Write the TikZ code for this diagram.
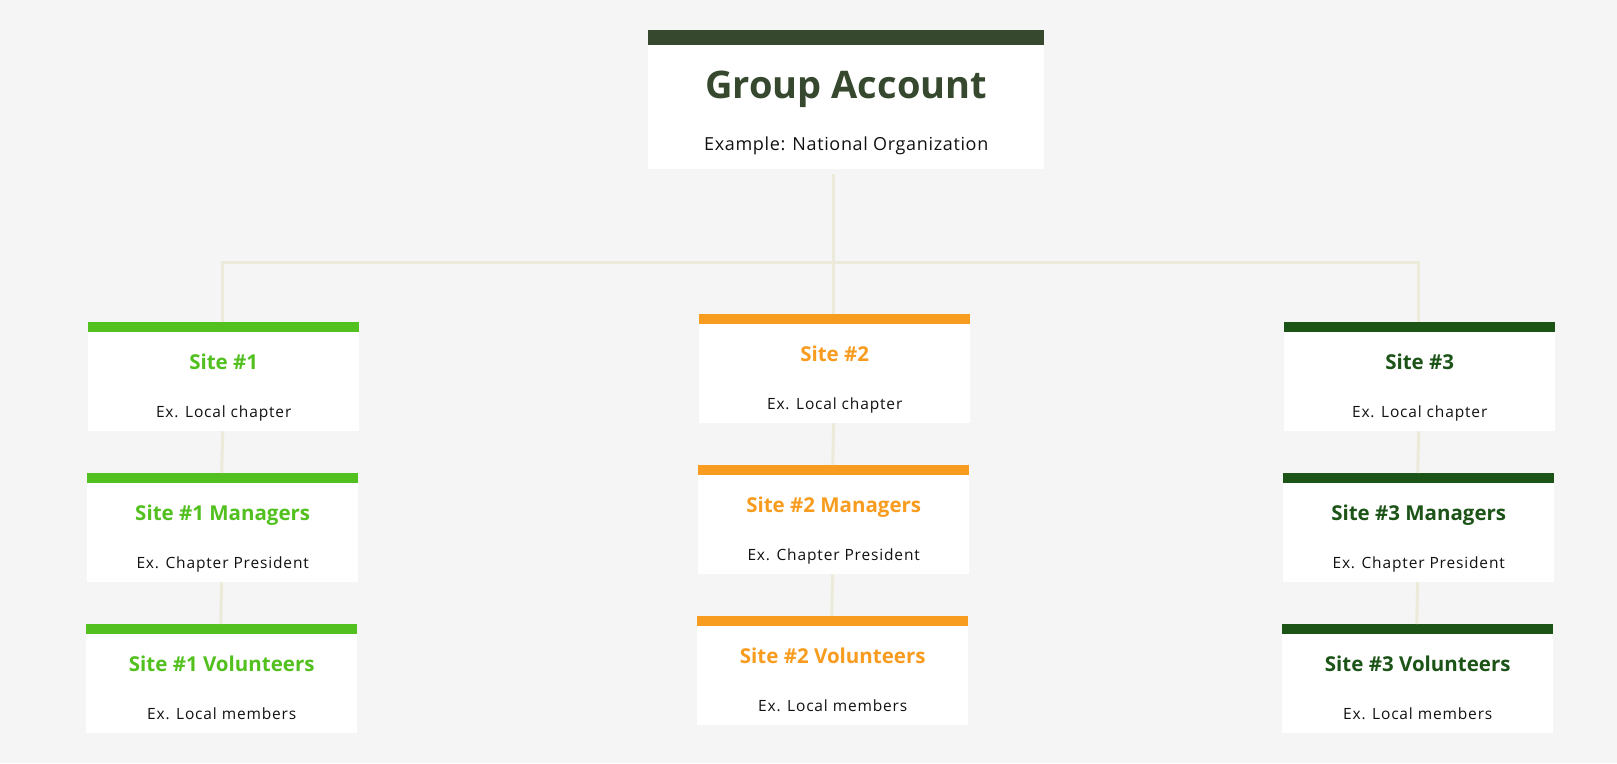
\documentclass[tikz,border=0pt]{standalone}
\usepackage{fontspec}
\setmainfont{Open Sans}
\definecolor{bg}{HTML}{F5F5F5}
\definecolor{linec}{HTML}{ECEBD9}
\definecolor{topc}{HTML}{36492F}
\definecolor{greenc}{HTML}{52C01F}
\definecolor{orangec}{HTML}{F89C1F}
\definecolor{darkc}{HTML}{1C5418}
\definecolor{textc}{HTML}{111111}
\tikzset{
  x=1pt, y=-1pt,
  cardbox/.style={draw=none, fill=white, rectangle, inner sep=0pt, anchor=north west,
    minimum width=271pt, minimum height=109pt},
  topbox/.style={draw=none, fill=white, rectangle, inner sep=0pt, anchor=north west,
    minimum width=396pt, minimum height=139pt},
  cardtitle/.style={anchor=base, inner sep=0pt, font=\fontsize{20.5}{24}\selectfont\bfseries},
  cardsub/.style={anchor=base, inner sep=0pt, font=\fontsize{15.5}{19}\selectfont\addfontfeatures{LetterSpace=5.5}, text=textc},
  conn/.style={draw=linec, line width=3pt},
}
\newcommand\orgcard[6]{%
  \node[cardbox] (#1) at (#2,#3) {};
  \fill[#4] (#1.north west) rectangle ++(271,10);
  \node[cardtitle, text=#4] (#1-t) at ([yshift=-47.5pt]#1.north) {#5};
  \node[cardsub] (#1-s) at ([yshift=-95pt]#1.north) {#6};
}
\begin{document}
\begin{tikzpicture}
\fill[bg] (0,0) rectangle (1617,763);
\useasboundingbox (0,0) rectangle (1617,763);
\coordinate (hub) at (833.5,262);
% top box
\node[topbox] (top) at (648,30) {};
\fill[topc] (top.north west) rectangle ++(396,15);
\node[anchor=base, inner sep=0pt, text=topc, font=\fontsize{38}{44}\selectfont\bfseries] (top-t) at ([yshift=-68pt]top.north) {Group Account};
\node[anchor=base, inner sep=0pt, text=textc, font=\fontsize{18}{22}\selectfont\addfontfeatures{LetterSpace=3.6}] (top-s) at ([yshift=-120pt]top.north) {Example: National Organization};
% cards
\orgcard{s1}{88}{322}{greenc}{Site \#1}{Ex. Local chapter}
\orgcard{m1}{87}{473}{greenc}{Site \#1 Managers}{Ex. Chapter President}
\orgcard{v1}{86}{624}{greenc}{Site \#1 Volunteers}{Ex. Local members}
\orgcard{s2}{699}{314}{orangec}{Site \#2}{Ex. Local chapter}
\orgcard{m2}{698}{465}{orangec}{Site \#2 Managers}{Ex. Chapter President}
\orgcard{v2}{697}{616}{orangec}{Site \#2 Volunteers}{Ex. Local members}
\orgcard{s3}{1284}{322}{darkc}{Site \#3}{Ex. Local chapter}
\orgcard{m3}{1283}{473}{darkc}{Site \#3 Managers}{Ex. Chapter President}
\orgcard{v3}{1282}{624}{darkc}{Site \#3 Volunteers}{Ex. Local members}
% connectors
\draw[conn] ([yshift=-5pt]top.south -| hub) -- (hub);
\draw[conn] ([xshift=-1pt]s1.north) |- (hub) -| ([xshift=-1pt]s3.north);
\draw[conn] (hub) -- (s2.north -| hub);
\draw[conn] ([xshift=-1pt]s1.south) -- ([xshift=-1pt]m1.north);
\draw[conn] ([xshift=-1pt]m1.south) -- ([xshift=-1pt]v1.north);
\draw[conn] ([xshift=-1pt]s2.south) -- ([xshift=-1pt]m2.north);
\draw[conn] ([xshift=-1pt]m2.south) -- ([xshift=-1pt]v2.north);
\draw[conn] ([xshift=-1pt]s3.south) -- ([xshift=-1pt]m3.north);
\draw[conn] ([xshift=-1pt]m3.south) -- ([xshift=-1pt]v3.north);
\end{tikzpicture}
\end{document}
